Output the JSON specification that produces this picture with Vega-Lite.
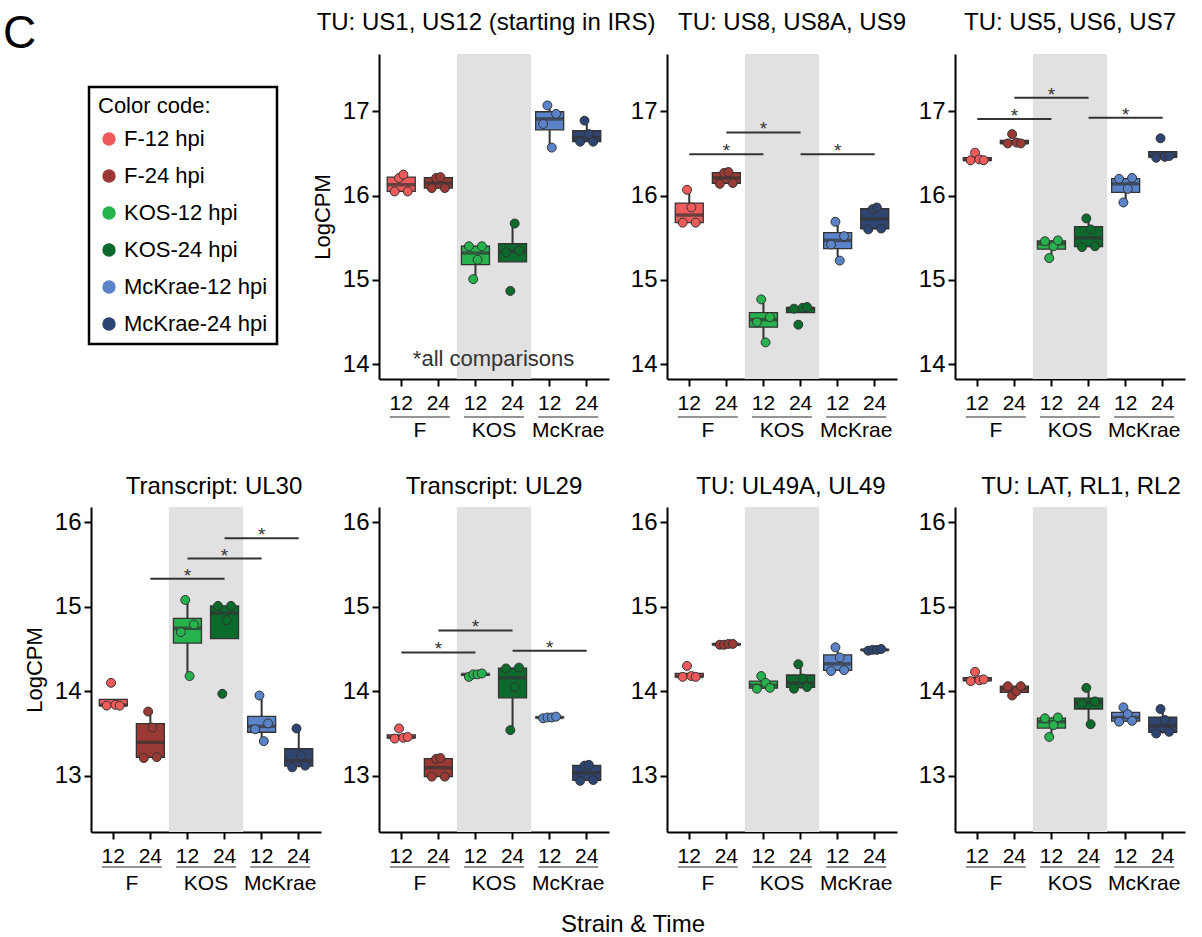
{
"$schema": "https://vega.github.io/schema/vega-lite/v6.json",
"background": "white",
"padding": {"left": 3, "top": 11, "right": 5, "bottom": 3},
"config": {
  "font": "Liberation Sans",
  "view": {"stroke": null},
  "range": {"category": ["#EE5B5B", "#9B3A35", "#26B34D", "#0C6A2C", "#5B83C7", "#2F4571"]},
  "title": {"fontSize": 24, "fontWeight": "normal", "color": "black", "frame": "group", "baseline": "alphabetic"},
  "axis": {"domainColor": "black", "domainWidth": 2, "tickColor": "black", "tickWidth": 2, "tickSize": 7, "labelColor": "black", "grid": false, "titleFontWeight": "normal", "titleColor": "black", "zindex": 1},
  "axisY": {"labelFontSize": 24, "labelPadding": 3, "titleFontSize": 22, "titlePadding": 8, "format": "d"},
  "axisX": {"labelFontSize": 21, "labelAngle": 0}
},
"title": {"text": "Strain & Time", "orient": "bottom", "anchor": "middle", "frame": "bounds", "offset": 20, "dx": 39},
"datasets": {
  "strains": [{"strain": "F"}, {"strain": "KOS"}, {"strain": "McKrae"}],
  "sig": [
    {"panel": "US8", "a": "F-12 hpi", "b": "KOS-12 hpi", "mid": "F-24 hpi", "bar": 16.49},
    {"panel": "US8", "a": "F-24 hpi", "b": "KOS-24 hpi", "mid": "KOS-12 hpi", "bar": 16.75},
    {"panel": "US8", "a": "KOS-24 hpi", "b": "McKrae-24 hpi", "mid": "McKrae-12 hpi", "bar": 16.49},
    {"panel": "US5", "a": "F-12 hpi", "b": "KOS-12 hpi", "mid": "F-24 hpi", "bar": 16.91},
    {"panel": "US5", "a": "F-24 hpi", "b": "KOS-24 hpi", "mid": "KOS-12 hpi", "bar": 17.16},
    {"panel": "US5", "a": "KOS-24 hpi", "b": "McKrae-24 hpi", "mid": "McKrae-12 hpi", "bar": 16.925},
    {"panel": "UL30", "a": "F-24 hpi", "b": "KOS-24 hpi", "mid": "KOS-12 hpi", "bar": 15.33},
    {"panel": "UL30", "a": "KOS-12 hpi", "b": "McKrae-12 hpi", "mid": "KOS-24 hpi", "bar": 15.57},
    {"panel": "UL30", "a": "KOS-24 hpi", "b": "McKrae-24 hpi", "mid": "McKrae-12 hpi", "bar": 15.81},
    {"panel": "UL29", "a": "F-12 hpi", "b": "KOS-12 hpi", "mid": "F-24 hpi", "bar": 14.46},
    {"panel": "UL29", "a": "F-24 hpi", "b": "KOS-24 hpi", "mid": "KOS-12 hpi", "bar": 14.72},
    {"panel": "UL29", "a": "KOS-24 hpi", "b": "McKrae-24 hpi", "mid": "McKrae-12 hpi", "bar": 14.48}
  ],
  "pts": [
    {"panel": "US1", "group": "F-12 hpi", "rep": 1, "logcpm": 16.05},
    {"panel": "US1", "group": "F-12 hpi", "rep": 2, "logcpm": 16.21},
    {"panel": "US1", "group": "F-12 hpi", "rep": 3, "logcpm": 16.25},
    {"panel": "US1", "group": "F-12 hpi", "rep": 4, "logcpm": 16.05},
    {"panel": "US1", "group": "F-24 hpi", "rep": 1, "logcpm": 16.09},
    {"panel": "US1", "group": "F-24 hpi", "rep": 2, "logcpm": 16.21},
    {"panel": "US1", "group": "F-24 hpi", "rep": 3, "logcpm": 16.22},
    {"panel": "US1", "group": "F-24 hpi", "rep": 4, "logcpm": 16.09},
    {"panel": "US1", "group": "KOS-12 hpi", "rep": 1, "logcpm": 15.40},
    {"panel": "US1", "group": "KOS-12 hpi", "rep": 2, "logcpm": 15.01},
    {"panel": "US1", "group": "KOS-12 hpi", "rep": 3, "logcpm": 15.24},
    {"panel": "US1", "group": "KOS-12 hpi", "rep": 4, "logcpm": 15.40},
    {"panel": "US1", "group": "KOS-24 hpi", "rep": 1, "logcpm": 15.33},
    {"panel": "US1", "group": "KOS-24 hpi", "rep": 2, "logcpm": 14.87},
    {"panel": "US1", "group": "KOS-24 hpi", "rep": 3, "logcpm": 15.67},
    {"panel": "US1", "group": "KOS-24 hpi", "rep": 4, "logcpm": 15.35},
    {"panel": "US1", "group": "McKrae-12 hpi", "rep": 1, "logcpm": 16.85},
    {"panel": "US1", "group": "McKrae-12 hpi", "rep": 2, "logcpm": 17.07},
    {"panel": "US1", "group": "McKrae-12 hpi", "rep": 3, "logcpm": 16.57},
    {"panel": "US1", "group": "McKrae-12 hpi", "rep": 4, "logcpm": 16.97},
    {"panel": "US1", "group": "McKrae-24 hpi", "rep": 1, "logcpm": 16.64},
    {"panel": "US1", "group": "McKrae-24 hpi", "rep": 2, "logcpm": 16.89},
    {"panel": "US1", "group": "McKrae-24 hpi", "rep": 3, "logcpm": 16.73},
    {"panel": "US1", "group": "McKrae-24 hpi", "rep": 4, "logcpm": 16.64},
    {"panel": "US8", "group": "F-12 hpi", "rep": 1, "logcpm": 15.68},
    {"panel": "US8", "group": "F-12 hpi", "rep": 2, "logcpm": 16.07},
    {"panel": "US8", "group": "F-12 hpi", "rep": 3, "logcpm": 15.86},
    {"panel": "US8", "group": "F-12 hpi", "rep": 4, "logcpm": 15.68},
    {"panel": "US8", "group": "F-24 hpi", "rep": 1, "logcpm": 16.14},
    {"panel": "US8", "group": "F-24 hpi", "rep": 2, "logcpm": 16.27},
    {"panel": "US8", "group": "F-24 hpi", "rep": 3, "logcpm": 16.28},
    {"panel": "US8", "group": "F-24 hpi", "rep": 4, "logcpm": 16.15},
    {"panel": "US8", "group": "KOS-12 hpi", "rep": 1, "logcpm": 14.50},
    {"panel": "US8", "group": "KOS-12 hpi", "rep": 2, "logcpm": 14.77},
    {"panel": "US8", "group": "KOS-12 hpi", "rep": 3, "logcpm": 14.26},
    {"panel": "US8", "group": "KOS-12 hpi", "rep": 4, "logcpm": 14.56},
    {"panel": "US8", "group": "KOS-24 hpi", "rep": 1, "logcpm": 14.66},
    {"panel": "US8", "group": "KOS-24 hpi", "rep": 2, "logcpm": 14.47},
    {"panel": "US8", "group": "KOS-24 hpi", "rep": 3, "logcpm": 14.67},
    {"panel": "US8", "group": "KOS-24 hpi", "rep": 4, "logcpm": 14.68},
    {"panel": "US8", "group": "McKrae-12 hpi", "rep": 1, "logcpm": 15.42},
    {"panel": "US8", "group": "McKrae-12 hpi", "rep": 2, "logcpm": 15.69},
    {"panel": "US8", "group": "McKrae-12 hpi", "rep": 3, "logcpm": 15.23},
    {"panel": "US8", "group": "McKrae-12 hpi", "rep": 4, "logcpm": 15.52},
    {"panel": "US8", "group": "McKrae-24 hpi", "rep": 1, "logcpm": 15.60},
    {"panel": "US8", "group": "McKrae-24 hpi", "rep": 2, "logcpm": 15.84},
    {"panel": "US8", "group": "McKrae-24 hpi", "rep": 3, "logcpm": 15.86},
    {"panel": "US8", "group": "McKrae-24 hpi", "rep": 4, "logcpm": 15.61},
    {"panel": "US5", "group": "F-12 hpi", "rep": 1, "logcpm": 16.42},
    {"panel": "US5", "group": "F-12 hpi", "rep": 2, "logcpm": 16.51},
    {"panel": "US5", "group": "F-12 hpi", "rep": 3, "logcpm": 16.43},
    {"panel": "US5", "group": "F-12 hpi", "rep": 4, "logcpm": 16.42},
    {"panel": "US5", "group": "F-24 hpi", "rep": 1, "logcpm": 16.62},
    {"panel": "US5", "group": "F-24 hpi", "rep": 2, "logcpm": 16.73},
    {"panel": "US5", "group": "F-24 hpi", "rep": 3, "logcpm": 16.63},
    {"panel": "US5", "group": "F-24 hpi", "rep": 4, "logcpm": 16.62},
    {"panel": "US5", "group": "KOS-12 hpi", "rep": 1, "logcpm": 15.46},
    {"panel": "US5", "group": "KOS-12 hpi", "rep": 2, "logcpm": 15.26},
    {"panel": "US5", "group": "KOS-12 hpi", "rep": 3, "logcpm": 15.40},
    {"panel": "US5", "group": "KOS-12 hpi", "rep": 4, "logcpm": 15.47},
    {"panel": "US5", "group": "KOS-24 hpi", "rep": 1, "logcpm": 15.39},
    {"panel": "US5", "group": "KOS-24 hpi", "rep": 2, "logcpm": 15.73},
    {"panel": "US5", "group": "KOS-24 hpi", "rep": 3, "logcpm": 15.60},
    {"panel": "US5", "group": "KOS-24 hpi", "rep": 4, "logcpm": 15.40},
    {"panel": "US5", "group": "McKrae-12 hpi", "rep": 1, "logcpm": 16.20},
    {"panel": "US5", "group": "McKrae-12 hpi", "rep": 2, "logcpm": 15.92},
    {"panel": "US5", "group": "McKrae-12 hpi", "rep": 3, "logcpm": 16.08},
    {"panel": "US5", "group": "McKrae-12 hpi", "rep": 4, "logcpm": 16.21},
    {"panel": "US5", "group": "McKrae-24 hpi", "rep": 1, "logcpm": 16.45},
    {"panel": "US5", "group": "McKrae-24 hpi", "rep": 2, "logcpm": 16.68},
    {"panel": "US5", "group": "McKrae-24 hpi", "rep": 3, "logcpm": 16.46},
    {"panel": "US5", "group": "McKrae-24 hpi", "rep": 4, "logcpm": 16.47},
    {"panel": "UL30", "group": "F-12 hpi", "rep": 1, "logcpm": 13.83},
    {"panel": "UL30", "group": "F-12 hpi", "rep": 2, "logcpm": 14.10},
    {"panel": "UL30", "group": "F-12 hpi", "rep": 3, "logcpm": 13.84},
    {"panel": "UL30", "group": "F-12 hpi", "rep": 4, "logcpm": 13.83},
    {"panel": "UL30", "group": "F-24 hpi", "rep": 1, "logcpm": 13.21},
    {"panel": "UL30", "group": "F-24 hpi", "rep": 2, "logcpm": 13.76},
    {"panel": "UL30", "group": "F-24 hpi", "rep": 3, "logcpm": 13.57},
    {"panel": "UL30", "group": "F-24 hpi", "rep": 4, "logcpm": 13.22},
    {"panel": "UL30", "group": "KOS-12 hpi", "rep": 1, "logcpm": 14.70},
    {"panel": "UL30", "group": "KOS-12 hpi", "rep": 2, "logcpm": 15.08},
    {"panel": "UL30", "group": "KOS-12 hpi", "rep": 3, "logcpm": 14.18},
    {"panel": "UL30", "group": "KOS-12 hpi", "rep": 4, "logcpm": 14.79},
    {"panel": "UL30", "group": "KOS-24 hpi", "rep": 1, "logcpm": 15.01},
    {"panel": "UL30", "group": "KOS-24 hpi", "rep": 2, "logcpm": 13.97},
    {"panel": "UL30", "group": "KOS-24 hpi", "rep": 3, "logcpm": 14.84},
    {"panel": "UL30", "group": "KOS-24 hpi", "rep": 4, "logcpm": 15.01},
    {"panel": "UL30", "group": "McKrae-12 hpi", "rep": 1, "logcpm": 13.55},
    {"panel": "UL30", "group": "McKrae-12 hpi", "rep": 2, "logcpm": 13.95},
    {"panel": "UL30", "group": "McKrae-12 hpi", "rep": 3, "logcpm": 13.41},
    {"panel": "UL30", "group": "McKrae-12 hpi", "rep": 4, "logcpm": 13.62},
    {"panel": "UL30", "group": "McKrae-24 hpi", "rep": 1, "logcpm": 13.10},
    {"panel": "UL30", "group": "McKrae-24 hpi", "rep": 2, "logcpm": 13.56},
    {"panel": "UL30", "group": "McKrae-24 hpi", "rep": 3, "logcpm": 13.24},
    {"panel": "UL30", "group": "McKrae-24 hpi", "rep": 4, "logcpm": 13.12},
    {"panel": "UL29", "group": "F-12 hpi", "rep": 1, "logcpm": 13.44},
    {"panel": "UL29", "group": "F-12 hpi", "rep": 2, "logcpm": 13.56},
    {"panel": "UL29", "group": "F-12 hpi", "rep": 3, "logcpm": 13.45},
    {"panel": "UL29", "group": "F-12 hpi", "rep": 4, "logcpm": 13.46},
    {"panel": "UL29", "group": "F-24 hpi", "rep": 1, "logcpm": 12.99},
    {"panel": "UL29", "group": "F-24 hpi", "rep": 2, "logcpm": 13.20},
    {"panel": "UL29", "group": "F-24 hpi", "rep": 3, "logcpm": 13.21},
    {"panel": "UL29", "group": "F-24 hpi", "rep": 4, "logcpm": 12.99},
    {"panel": "UL29", "group": "KOS-12 hpi", "rep": 1, "logcpm": 14.17},
    {"panel": "UL29", "group": "KOS-12 hpi", "rep": 2, "logcpm": 14.20},
    {"panel": "UL29", "group": "KOS-12 hpi", "rep": 3, "logcpm": 14.20},
    {"panel": "UL29", "group": "KOS-12 hpi", "rep": 4, "logcpm": 14.21},
    {"panel": "UL29", "group": "KOS-24 hpi", "rep": 1, "logcpm": 14.27},
    {"panel": "UL29", "group": "KOS-24 hpi", "rep": 2, "logcpm": 13.54},
    {"panel": "UL29", "group": "KOS-24 hpi", "rep": 3, "logcpm": 14.05},
    {"panel": "UL29", "group": "KOS-24 hpi", "rep": 4, "logcpm": 14.28},
    {"panel": "UL29", "group": "McKrae-12 hpi", "rep": 1, "logcpm": 13.68},
    {"panel": "UL29", "group": "McKrae-12 hpi", "rep": 2, "logcpm": 13.69},
    {"panel": "UL29", "group": "McKrae-12 hpi", "rep": 3, "logcpm": 13.69},
    {"panel": "UL29", "group": "McKrae-12 hpi", "rep": 4, "logcpm": 13.70},
    {"panel": "UL29", "group": "McKrae-24 hpi", "rep": 1, "logcpm": 12.94},
    {"panel": "UL29", "group": "McKrae-24 hpi", "rep": 2, "logcpm": 13.12},
    {"panel": "UL29", "group": "McKrae-24 hpi", "rep": 3, "logcpm": 13.13},
    {"panel": "UL29", "group": "McKrae-24 hpi", "rep": 4, "logcpm": 12.95},
    {"panel": "UL49", "group": "F-12 hpi", "rep": 1, "logcpm": 14.17},
    {"panel": "UL49", "group": "F-12 hpi", "rep": 2, "logcpm": 14.30},
    {"panel": "UL49", "group": "F-12 hpi", "rep": 3, "logcpm": 14.18},
    {"panel": "UL49", "group": "F-12 hpi", "rep": 4, "logcpm": 14.17},
    {"panel": "UL49", "group": "F-24 hpi", "rep": 1, "logcpm": 14.55},
    {"panel": "UL49", "group": "F-24 hpi", "rep": 2, "logcpm": 14.55},
    {"panel": "UL49", "group": "F-24 hpi", "rep": 3, "logcpm": 14.56},
    {"panel": "UL49", "group": "F-24 hpi", "rep": 4, "logcpm": 14.56},
    {"panel": "UL49", "group": "KOS-12 hpi", "rep": 1, "logcpm": 14.03},
    {"panel": "UL49", "group": "KOS-12 hpi", "rep": 2, "logcpm": 14.18},
    {"panel": "UL49", "group": "KOS-12 hpi", "rep": 3, "logcpm": 14.10},
    {"panel": "UL49", "group": "KOS-12 hpi", "rep": 4, "logcpm": 14.04},
    {"panel": "UL49", "group": "KOS-24 hpi", "rep": 1, "logcpm": 14.03},
    {"panel": "UL49", "group": "KOS-24 hpi", "rep": 2, "logcpm": 14.32},
    {"panel": "UL49", "group": "KOS-24 hpi", "rep": 3, "logcpm": 14.15},
    {"panel": "UL49", "group": "KOS-24 hpi", "rep": 4, "logcpm": 14.05},
    {"panel": "UL49", "group": "McKrae-12 hpi", "rep": 1, "logcpm": 14.24},
    {"panel": "UL49", "group": "McKrae-12 hpi", "rep": 2, "logcpm": 14.52},
    {"panel": "UL49", "group": "McKrae-12 hpi", "rep": 3, "logcpm": 14.40},
    {"panel": "UL49", "group": "McKrae-12 hpi", "rep": 4, "logcpm": 14.25},
    {"panel": "UL49", "group": "McKrae-24 hpi", "rep": 1, "logcpm": 14.48},
    {"panel": "UL49", "group": "McKrae-24 hpi", "rep": 2, "logcpm": 14.49},
    {"panel": "UL49", "group": "McKrae-24 hpi", "rep": 3, "logcpm": 14.49},
    {"panel": "UL49", "group": "McKrae-24 hpi", "rep": 4, "logcpm": 14.50},
    {"panel": "LAT", "group": "F-12 hpi", "rep": 1, "logcpm": 14.12},
    {"panel": "LAT", "group": "F-12 hpi", "rep": 2, "logcpm": 14.23},
    {"panel": "LAT", "group": "F-12 hpi", "rep": 3, "logcpm": 14.13},
    {"panel": "LAT", "group": "F-12 hpi", "rep": 4, "logcpm": 14.14},
    {"panel": "LAT", "group": "F-24 hpi", "rep": 1, "logcpm": 14.06},
    {"panel": "LAT", "group": "F-24 hpi", "rep": 2, "logcpm": 13.95},
    {"panel": "LAT", "group": "F-24 hpi", "rep": 3, "logcpm": 14.00},
    {"panel": "LAT", "group": "F-24 hpi", "rep": 4, "logcpm": 14.06},
    {"panel": "LAT", "group": "KOS-12 hpi", "rep": 1, "logcpm": 13.68},
    {"panel": "LAT", "group": "KOS-12 hpi", "rep": 2, "logcpm": 13.46},
    {"panel": "LAT", "group": "KOS-12 hpi", "rep": 3, "logcpm": 13.60},
    {"panel": "LAT", "group": "KOS-12 hpi", "rep": 4, "logcpm": 13.69},
    {"panel": "LAT", "group": "KOS-24 hpi", "rep": 1, "logcpm": 13.85},
    {"panel": "LAT", "group": "KOS-24 hpi", "rep": 2, "logcpm": 14.04},
    {"panel": "LAT", "group": "KOS-24 hpi", "rep": 3, "logcpm": 13.61},
    {"panel": "LAT", "group": "KOS-24 hpi", "rep": 4, "logcpm": 13.88},
    {"panel": "LAT", "group": "McKrae-12 hpi", "rep": 1, "logcpm": 13.64},
    {"panel": "LAT", "group": "McKrae-12 hpi", "rep": 2, "logcpm": 13.81},
    {"panel": "LAT", "group": "McKrae-12 hpi", "rep": 3, "logcpm": 13.73},
    {"panel": "LAT", "group": "McKrae-12 hpi", "rep": 4, "logcpm": 13.65},
    {"panel": "LAT", "group": "McKrae-24 hpi", "rep": 1, "logcpm": 13.50},
    {"panel": "LAT", "group": "McKrae-24 hpi", "rep": 2, "logcpm": 13.79},
    {"panel": "LAT", "group": "McKrae-24 hpi", "rep": 3, "logcpm": 13.66},
    {"panel": "LAT", "group": "McKrae-24 hpi", "rep": 4, "logcpm": 13.52}
  ]
},
"columns": 4,
"spacing": {"row": 128, "column": 58},
"bounds": "flush",
"resolve": {"legend": {"color": "independent"}},
"concat": [
  {
    "width": 230, "height": 325,
    "title": {"text": "C", "fontSize": 46, "anchor": "start", "dx": -88, "offset": -4},
    "data": {"values": [{"group": "F-12 hpi"}, {"group": "F-24 hpi"}, {"group": "KOS-12 hpi"}, {"group": "KOS-24 hpi"}, {"group": "McKrae-12 hpi"}, {"group": "McKrae-24 hpi"}]},
    "mark": {"type": "point", "filled": true, "opacity": 0},
    "encoding": {"color": {"field": "group", "type": "nominal", "legend": {
      "title": "Color code:", "orient": "none", "legendX": -2, "legendY": 33,
      "titleFontSize": 22, "titleFontWeight": "normal", "titleColor": "black", "titlePadding": 10,
      "labelFontSize": 22, "labelColor": "black", "labelOffset": 4,
      "symbolType": "circle", "symbolSize": 180, "symbolOpacity": 1, "symbolStrokeWidth": 0,
      "rowPadding": 15, "padding": 9, "strokeColor": "black", "fillColor": "white",
      "encode": {"legend": {"update": {"strokeWidth": {"value": 2.5}}}}}}}
  },
  {
    "title": {"text": "TU: US1, US12 (starting in IRS)", "offset": 19, "dx": -8},
    "width": 230, "height": 325,
    "resolve": {"scale": {"x": "independent", "xOffset": "independent"}, "axis": {"x": "independent"}},
    "layer": [
      {"data": {"name": "strains"}, "layer": [
        {"transform": [{"filter": "datum.strain === 'KOS'"}], "mark": {"type": "bar", "color": "#E1E1E1", "width": {"band": 1}},
         "encoding": {"x": {"field": "strain", "type": "nominal", "scale": {"domain": ["F", "KOS", "McKrae"], "paddingInner": 0, "paddingOuter": 0.05}, "axis": {"orient": "bottom", "title": null, "offset": 40, "domain": false, "ticks": false, "tickSize": 0, "labelPadding": 0}}, "y": {"datum": 13.826}, "y2": {"datum": 17.68}}},
        {"mark": {"type": "tick", "color": "#333", "size": 60, "thickness": 1.5}, "encoding": {"x": {"field": "strain", "type": "nominal"}, "y": {"datum": 13.376}}}
      ]},
      {"layer": [
        {"data": {"name": "pts"}, "transform": [{"filter": "datum.panel === 'US1'"}],
         "mark": {"type": "boxplot", "size": 28, "extent": 1.5, "ticks": false, "outliers": false, "box": {"stroke": "#333", "strokeWidth": 1.3}, "median": {"color": "#333", "thickness": 3.5}, "rule": {"color": "#333", "strokeWidth": 2}},
         "encoding": {"x": {"field": "group", "type": "nominal", "scale": {"domain": ["F-12 hpi", "F-24 hpi", "KOS-12 hpi", "KOS-24 hpi", "McKrae-12 hpi", "McKrae-24 hpi"], "paddingInner": 0, "paddingOuter": 0.1}, "axis": {"orient": "bottom", "title": null, "labelExpr": "slice(datum.label, -6, -4)", "labelPadding": 6}},
                      "y": {"field": "logcpm", "type": "quantitative", "scale": {"domain": [13.826, 17.68], "nice": false, "zero": false}, "axis": {"values": [14, 15, 16, 17], "title": "LogCPM"}},
                      "color": {"field": "group", "type": "nominal", "legend": null}}},
        {"data": {"name": "pts"}, "transform": [{"filter": "datum.panel === 'US1'"}],
         "mark": {"type": "point", "filled": true, "size": 80, "stroke": "#333", "strokeWidth": 1, "opacity": 1},
         "encoding": {"x": {"field": "group", "type": "nominal"}, "xOffset": {"field": "rep", "type": "nominal", "scale": {"type": "point", "padding": 0, "range": [12, 25]}}, "y": {"field": "logcpm", "type": "quantitative"}, "color": {"field": "group", "type": "nominal", "legend": null}}},
        {"data": {"values": [{}]}, "mark": {"type": "text", "text": "*all comparisons", "fontSize": 22, "color": "#333", "dx": -19, "baseline": "alphabetic"},
         "encoding": {"x": {"datum": "KOS-24 hpi"}, "y": {"datum": 13.98}}}
      ]}
    ]
  },
  {
    "title": {"text": "TU: US8, US8A, US9", "offset": 19, "dx": 10},
    "width": 230, "height": 325,
    "resolve": {"scale": {"x": "independent", "xOffset": "independent"}, "axis": {"x": "independent"}},
    "layer": [
      {"data": {"name": "strains"}, "layer": [
        {"transform": [{"filter": "datum.strain === 'KOS'"}], "mark": {"type": "bar", "color": "#E1E1E1", "width": {"band": 1}},
         "encoding": {"x": {"field": "strain", "type": "nominal", "scale": {"domain": ["F", "KOS", "McKrae"], "paddingInner": 0, "paddingOuter": 0.05}, "axis": {"orient": "bottom", "title": null, "offset": 40, "domain": false, "ticks": false, "tickSize": 0, "labelPadding": 0}}, "y": {"datum": 13.826}, "y2": {"datum": 17.68}}},
        {"mark": {"type": "tick", "color": "#333", "size": 60, "thickness": 1.5}, "encoding": {"x": {"field": "strain", "type": "nominal"}, "y": {"datum": 13.376}}}
      ]},
      {"layer": [
        {"data": {"name": "pts"}, "transform": [{"filter": "datum.panel === 'US8'"}],
         "mark": {"type": "boxplot", "size": 28, "extent": 1.5, "ticks": false, "outliers": false, "box": {"stroke": "#333", "strokeWidth": 1.3}, "median": {"color": "#333", "thickness": 3.5}, "rule": {"color": "#333", "strokeWidth": 2}},
         "encoding": {"x": {"field": "group", "type": "nominal", "scale": {"domain": ["F-12 hpi", "F-24 hpi", "KOS-12 hpi", "KOS-24 hpi", "McKrae-12 hpi", "McKrae-24 hpi"], "paddingInner": 0, "paddingOuter": 0.1}, "axis": {"orient": "bottom", "title": null, "labelExpr": "slice(datum.label, -6, -4)", "labelPadding": 6}},
                      "y": {"field": "logcpm", "type": "quantitative", "scale": {"domain": [13.826, 17.68], "nice": false, "zero": false}, "axis": {"values": [14, 15, 16, 17], "title": null}},
                      "color": {"field": "group", "type": "nominal", "legend": null}}},
        {"data": {"name": "pts"}, "transform": [{"filter": "datum.panel === 'US8'"}],
         "mark": {"type": "point", "filled": true, "size": 80, "stroke": "#333", "strokeWidth": 1, "opacity": 1},
         "encoding": {"x": {"field": "group", "type": "nominal"}, "xOffset": {"field": "rep", "type": "nominal", "scale": {"type": "point", "padding": 0, "range": [12, 25]}}, "y": {"field": "logcpm", "type": "quantitative"}, "color": {"field": "group", "type": "nominal", "legend": null}}},
        {"data": {"name": "sig"}, "transform": [{"filter": "datum.panel === 'US8'"}], "mark": {"type": "rule", "color": "#333", "strokeWidth": 2},
         "encoding": {"x": {"field": "a", "type": "nominal"}, "x2": {"field": "b"}, "y": {"field": "bar", "type": "quantitative"}}},
        {"data": {"name": "sig"}, "transform": [{"filter": "datum.panel === 'US8'"}], "mark": {"type": "text", "text": "*", "fontSize": 19, "color": "#333", "baseline": "alphabetic", "dy": 3},
         "encoding": {"x": {"field": "mid", "type": "nominal"}, "y": {"field": "bar", "type": "quantitative"}}}
      ]}
    ]
  },
  {
    "title": {"text": "TU: US5, US6, US7", "offset": 19},
    "width": 230, "height": 325,
    "resolve": {"scale": {"x": "independent", "xOffset": "independent"}, "axis": {"x": "independent"}},
    "layer": [
      {"data": {"name": "strains"}, "layer": [
        {"transform": [{"filter": "datum.strain === 'KOS'"}], "mark": {"type": "bar", "color": "#E1E1E1", "width": {"band": 1}},
         "encoding": {"x": {"field": "strain", "type": "nominal", "scale": {"domain": ["F", "KOS", "McKrae"], "paddingInner": 0, "paddingOuter": 0.05}, "axis": {"orient": "bottom", "title": null, "offset": 40, "domain": false, "ticks": false, "tickSize": 0, "labelPadding": 0}}, "y": {"datum": 13.826}, "y2": {"datum": 17.68}}},
        {"mark": {"type": "tick", "color": "#333", "size": 60, "thickness": 1.5}, "encoding": {"x": {"field": "strain", "type": "nominal"}, "y": {"datum": 13.376}}}
      ]},
      {"layer": [
        {"data": {"name": "pts"}, "transform": [{"filter": "datum.panel === 'US5'"}],
         "mark": {"type": "boxplot", "size": 28, "extent": 1.5, "ticks": false, "outliers": false, "box": {"stroke": "#333", "strokeWidth": 1.3}, "median": {"color": "#333", "thickness": 3.5}, "rule": {"color": "#333", "strokeWidth": 2}},
         "encoding": {"x": {"field": "group", "type": "nominal", "scale": {"domain": ["F-12 hpi", "F-24 hpi", "KOS-12 hpi", "KOS-24 hpi", "McKrae-12 hpi", "McKrae-24 hpi"], "paddingInner": 0, "paddingOuter": 0.1}, "axis": {"orient": "bottom", "title": null, "labelExpr": "slice(datum.label, -6, -4)", "labelPadding": 6}},
                      "y": {"field": "logcpm", "type": "quantitative", "scale": {"domain": [13.826, 17.68], "nice": false, "zero": false}, "axis": {"values": [14, 15, 16, 17], "title": null}},
                      "color": {"field": "group", "type": "nominal", "legend": null}}},
        {"data": {"name": "pts"}, "transform": [{"filter": "datum.panel === 'US5'"}],
         "mark": {"type": "point", "filled": true, "size": 80, "stroke": "#333", "strokeWidth": 1, "opacity": 1},
         "encoding": {"x": {"field": "group", "type": "nominal"}, "xOffset": {"field": "rep", "type": "nominal", "scale": {"type": "point", "padding": 0, "range": [12, 25]}}, "y": {"field": "logcpm", "type": "quantitative"}, "color": {"field": "group", "type": "nominal", "legend": null}}},
        {"data": {"name": "sig"}, "transform": [{"filter": "datum.panel === 'US5'"}], "mark": {"type": "rule", "color": "#333", "strokeWidth": 2},
         "encoding": {"x": {"field": "a", "type": "nominal"}, "x2": {"field": "b"}, "y": {"field": "bar", "type": "quantitative"}}},
        {"data": {"name": "sig"}, "transform": [{"filter": "datum.panel === 'US5'"}], "mark": {"type": "text", "text": "*", "fontSize": 19, "color": "#333", "baseline": "alphabetic", "dy": 3},
         "encoding": {"x": {"field": "mid", "type": "nominal"}, "y": {"field": "bar", "type": "quantitative"}}}
      ]}
    ]
  },
  {
    "title": {"text": "Transcript: UL30", "offset": 8, "dx": 8},
    "width": 230, "height": 325,
    "resolve": {"scale": {"x": "independent", "xOffset": "independent"}, "axis": {"x": "independent"}},
    "layer": [
      {"data": {"name": "strains"}, "layer": [
        {"transform": [{"filter": "datum.strain === 'KOS'"}], "mark": {"type": "bar", "color": "#E1E1E1", "width": {"band": 1}},
         "encoding": {"x": {"field": "strain", "type": "nominal", "scale": {"domain": ["F", "KOS", "McKrae"], "paddingInner": 0, "paddingOuter": 0.05}, "axis": {"orient": "bottom", "title": null, "offset": 40, "domain": false, "ticks": false, "tickSize": 0, "labelPadding": 0}}, "y": {"datum": 12.335}, "y2": {"datum": 16.18}}},
        {"mark": {"type": "tick", "color": "#333", "size": 60, "thickness": 1.5}, "encoding": {"x": {"field": "strain", "type": "nominal"}, "y": {"datum": 11.92}}}
      ]},
      {"layer": [
        {"data": {"name": "pts"}, "transform": [{"filter": "datum.panel === 'UL30'"}],
         "mark": {"type": "boxplot", "size": 28, "extent": 1.5, "ticks": false, "outliers": false, "box": {"stroke": "#333", "strokeWidth": 1.3}, "median": {"color": "#333", "thickness": 3.5}, "rule": {"color": "#333", "strokeWidth": 2}},
         "encoding": {"x": {"field": "group", "type": "nominal", "scale": {"domain": ["F-12 hpi", "F-24 hpi", "KOS-12 hpi", "KOS-24 hpi", "McKrae-12 hpi", "McKrae-24 hpi"], "paddingInner": 0, "paddingOuter": 0.1}, "axis": {"orient": "bottom", "title": null, "labelExpr": "slice(datum.label, -6, -4)", "labelPadding": 6}},
                      "y": {"field": "logcpm", "type": "quantitative", "scale": {"domain": [12.335, 16.18], "nice": false, "zero": false}, "axis": {"values": [13, 14, 15, 16], "title": "LogCPM"}},
                      "color": {"field": "group", "type": "nominal", "legend": null}}},
        {"data": {"name": "pts"}, "transform": [{"filter": "datum.panel === 'UL30'"}],
         "mark": {"type": "point", "filled": true, "size": 80, "stroke": "#333", "strokeWidth": 1, "opacity": 1},
         "encoding": {"x": {"field": "group", "type": "nominal"}, "xOffset": {"field": "rep", "type": "nominal", "scale": {"type": "point", "padding": 0, "range": [12, 25]}}, "y": {"field": "logcpm", "type": "quantitative"}, "color": {"field": "group", "type": "nominal", "legend": null}}},
        {"data": {"name": "sig"}, "transform": [{"filter": "datum.panel === 'UL30'"}], "mark": {"type": "rule", "color": "#333", "strokeWidth": 2},
         "encoding": {"x": {"field": "a", "type": "nominal"}, "x2": {"field": "b"}, "y": {"field": "bar", "type": "quantitative"}}},
        {"data": {"name": "sig"}, "transform": [{"filter": "datum.panel === 'UL30'"}], "mark": {"type": "text", "text": "*", "fontSize": 19, "color": "#333", "baseline": "alphabetic", "dy": 3},
         "encoding": {"x": {"field": "mid", "type": "nominal"}, "y": {"field": "bar", "type": "quantitative"}}}
      ]}
    ]
  },
  {
    "title": {"text": "Transcript: UL29", "offset": 8},
    "width": 230, "height": 325,
    "resolve": {"scale": {"x": "independent", "xOffset": "independent"}, "axis": {"x": "independent"}},
    "layer": [
      {"data": {"name": "strains"}, "layer": [
        {"transform": [{"filter": "datum.strain === 'KOS'"}], "mark": {"type": "bar", "color": "#E1E1E1", "width": {"band": 1}},
         "encoding": {"x": {"field": "strain", "type": "nominal", "scale": {"domain": ["F", "KOS", "McKrae"], "paddingInner": 0, "paddingOuter": 0.05}, "axis": {"orient": "bottom", "title": null, "offset": 40, "domain": false, "ticks": false, "tickSize": 0, "labelPadding": 0}}, "y": {"datum": 12.335}, "y2": {"datum": 16.18}}},
        {"mark": {"type": "tick", "color": "#333", "size": 60, "thickness": 1.5}, "encoding": {"x": {"field": "strain", "type": "nominal"}, "y": {"datum": 11.92}}}
      ]},
      {"layer": [
        {"data": {"name": "pts"}, "transform": [{"filter": "datum.panel === 'UL29'"}],
         "mark": {"type": "boxplot", "size": 28, "extent": 1.5, "ticks": false, "outliers": false, "box": {"stroke": "#333", "strokeWidth": 1.3}, "median": {"color": "#333", "thickness": 3.5}, "rule": {"color": "#333", "strokeWidth": 2}},
         "encoding": {"x": {"field": "group", "type": "nominal", "scale": {"domain": ["F-12 hpi", "F-24 hpi", "KOS-12 hpi", "KOS-24 hpi", "McKrae-12 hpi", "McKrae-24 hpi"], "paddingInner": 0, "paddingOuter": 0.1}, "axis": {"orient": "bottom", "title": null, "labelExpr": "slice(datum.label, -6, -4)", "labelPadding": 6}},
                      "y": {"field": "logcpm", "type": "quantitative", "scale": {"domain": [12.335, 16.18], "nice": false, "zero": false}, "axis": {"values": [13, 14, 15, 16], "title": null}},
                      "color": {"field": "group", "type": "nominal", "legend": null}}},
        {"data": {"name": "pts"}, "transform": [{"filter": "datum.panel === 'UL29'"}],
         "mark": {"type": "point", "filled": true, "size": 80, "stroke": "#333", "strokeWidth": 1, "opacity": 1},
         "encoding": {"x": {"field": "group", "type": "nominal"}, "xOffset": {"field": "rep", "type": "nominal", "scale": {"type": "point", "padding": 0, "range": [12, 25]}}, "y": {"field": "logcpm", "type": "quantitative"}, "color": {"field": "group", "type": "nominal", "legend": null}}},
        {"data": {"name": "sig"}, "transform": [{"filter": "datum.panel === 'UL29'"}], "mark": {"type": "rule", "color": "#333", "strokeWidth": 2},
         "encoding": {"x": {"field": "a", "type": "nominal"}, "x2": {"field": "b"}, "y": {"field": "bar", "type": "quantitative"}}},
        {"data": {"name": "sig"}, "transform": [{"filter": "datum.panel === 'UL29'"}], "mark": {"type": "text", "text": "*", "fontSize": 19, "color": "#333", "baseline": "alphabetic", "dy": 3},
         "encoding": {"x": {"field": "mid", "type": "nominal"}, "y": {"field": "bar", "type": "quantitative"}}}
      ]}
    ]
  },
  {
    "title": {"text": "TU: UL49A, UL49", "offset": 8, "dx": 9},
    "width": 230, "height": 325,
    "resolve": {"scale": {"x": "independent", "xOffset": "independent"}, "axis": {"x": "independent"}},
    "layer": [
      {"data": {"name": "strains"}, "layer": [
        {"transform": [{"filter": "datum.strain === 'KOS'"}], "mark": {"type": "bar", "color": "#E1E1E1", "width": {"band": 1}},
         "encoding": {"x": {"field": "strain", "type": "nominal", "scale": {"domain": ["F", "KOS", "McKrae"], "paddingInner": 0, "paddingOuter": 0.05}, "axis": {"orient": "bottom", "title": null, "offset": 40, "domain": false, "ticks": false, "tickSize": 0, "labelPadding": 0}}, "y": {"datum": 12.335}, "y2": {"datum": 16.18}}},
        {"mark": {"type": "tick", "color": "#333", "size": 60, "thickness": 1.5}, "encoding": {"x": {"field": "strain", "type": "nominal"}, "y": {"datum": 11.92}}}
      ]},
      {"layer": [
        {"data": {"name": "pts"}, "transform": [{"filter": "datum.panel === 'UL49'"}],
         "mark": {"type": "boxplot", "size": 28, "extent": 1.5, "ticks": false, "outliers": false, "box": {"stroke": "#333", "strokeWidth": 1.3}, "median": {"color": "#333", "thickness": 3.5}, "rule": {"color": "#333", "strokeWidth": 2}},
         "encoding": {"x": {"field": "group", "type": "nominal", "scale": {"domain": ["F-12 hpi", "F-24 hpi", "KOS-12 hpi", "KOS-24 hpi", "McKrae-12 hpi", "McKrae-24 hpi"], "paddingInner": 0, "paddingOuter": 0.1}, "axis": {"orient": "bottom", "title": null, "labelExpr": "slice(datum.label, -6, -4)", "labelPadding": 6}},
                      "y": {"field": "logcpm", "type": "quantitative", "scale": {"domain": [12.335, 16.18], "nice": false, "zero": false}, "axis": {"values": [13, 14, 15, 16], "title": null}},
                      "color": {"field": "group", "type": "nominal", "legend": null}}},
        {"data": {"name": "pts"}, "transform": [{"filter": "datum.panel === 'UL49'"}],
         "mark": {"type": "point", "filled": true, "size": 80, "stroke": "#333", "strokeWidth": 1, "opacity": 1},
         "encoding": {"x": {"field": "group", "type": "nominal"}, "xOffset": {"field": "rep", "type": "nominal", "scale": {"type": "point", "padding": 0, "range": [12, 25]}}, "y": {"field": "logcpm", "type": "quantitative"}, "color": {"field": "group", "type": "nominal", "legend": null}}}
      ]}
    ]
  },
  {
    "title": {"text": "TU: LAT, RL1, RL2", "offset": 8, "dx": 11},
    "width": 230, "height": 325,
    "resolve": {"scale": {"x": "independent", "xOffset": "independent"}, "axis": {"x": "independent"}},
    "layer": [
      {"data": {"name": "strains"}, "layer": [
        {"transform": [{"filter": "datum.strain === 'KOS'"}], "mark": {"type": "bar", "color": "#E1E1E1", "width": {"band": 1}},
         "encoding": {"x": {"field": "strain", "type": "nominal", "scale": {"domain": ["F", "KOS", "McKrae"], "paddingInner": 0, "paddingOuter": 0.05}, "axis": {"orient": "bottom", "title": null, "offset": 40, "domain": false, "ticks": false, "tickSize": 0, "labelPadding": 0}}, "y": {"datum": 12.335}, "y2": {"datum": 16.18}}},
        {"mark": {"type": "tick", "color": "#333", "size": 60, "thickness": 1.5}, "encoding": {"x": {"field": "strain", "type": "nominal"}, "y": {"datum": 11.92}}}
      ]},
      {"layer": [
        {"data": {"name": "pts"}, "transform": [{"filter": "datum.panel === 'LAT'"}],
         "mark": {"type": "boxplot", "size": 28, "extent": 1.5, "ticks": false, "outliers": false, "box": {"stroke": "#333", "strokeWidth": 1.3}, "median": {"color": "#333", "thickness": 3.5}, "rule": {"color": "#333", "strokeWidth": 2}},
         "encoding": {"x": {"field": "group", "type": "nominal", "scale": {"domain": ["F-12 hpi", "F-24 hpi", "KOS-12 hpi", "KOS-24 hpi", "McKrae-12 hpi", "McKrae-24 hpi"], "paddingInner": 0, "paddingOuter": 0.1}, "axis": {"orient": "bottom", "title": null, "labelExpr": "slice(datum.label, -6, -4)", "labelPadding": 6}},
                      "y": {"field": "logcpm", "type": "quantitative", "scale": {"domain": [12.335, 16.18], "nice": false, "zero": false}, "axis": {"values": [13, 14, 15, 16], "title": null}},
                      "color": {"field": "group", "type": "nominal", "legend": null}}},
        {"data": {"name": "pts"}, "transform": [{"filter": "datum.panel === 'LAT'"}],
         "mark": {"type": "point", "filled": true, "size": 80, "stroke": "#333", "strokeWidth": 1, "opacity": 1},
         "encoding": {"x": {"field": "group", "type": "nominal"}, "xOffset": {"field": "rep", "type": "nominal", "scale": {"type": "point", "padding": 0, "range": [12, 25]}}, "y": {"field": "logcpm", "type": "quantitative"}, "color": {"field": "group", "type": "nominal", "legend": null}}}
      ]}
    ]
  }
]
}
